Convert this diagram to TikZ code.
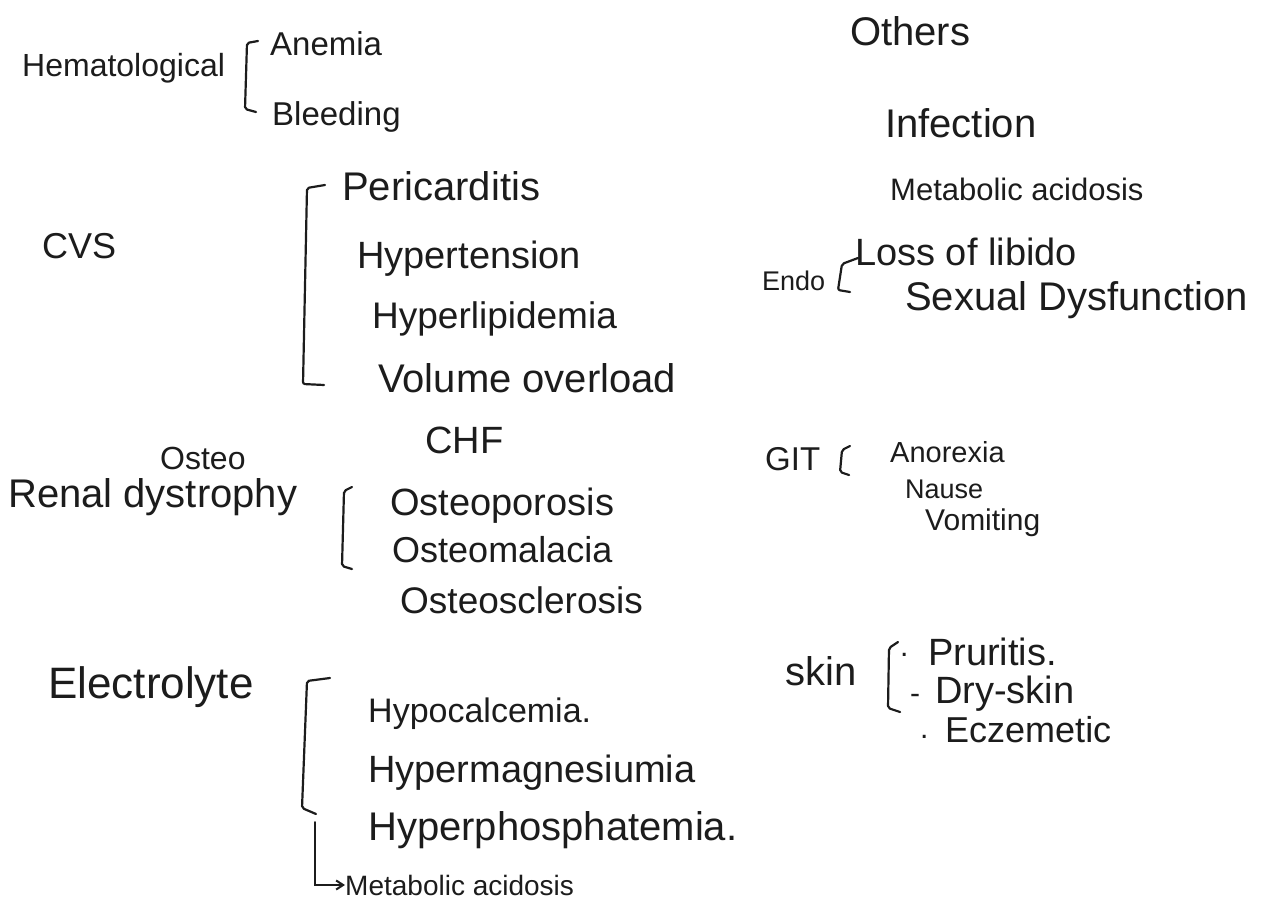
\documentclass[tikz,border=0pt]{standalone}
\usepackage{fontspec}
\setmainfont{Liberation Sans}
\usetikzlibrary{arrows.meta}
\definecolor{ink}{HTML}{1C1C1C}
\begin{document}
\begin{tikzpicture}[x=1pt,y=-1pt,
  txt/.style={anchor=base west, inner sep=0pt, text=ink, font=\fontsize{#1}{#1}\selectfont},
  brk/.style={draw=ink, line width=2.2pt, line cap=round, line join=round, rounded corners=2pt},
  conn/.style={draw=ink, line width=2pt, line cap=round, -{Straight Barb[length=7pt,width=9pt,line width=2pt]}}]
\useasboundingbox[fill=white] (0,0) rectangle (1280,899);

% Hematological
\node[txt=32] (hem) at (22,77) {Hematological};
\node[txt=33] (anemia) at (270,56) {Anemia};
\node[txt=33] (bleed) at (272,125) {Bleeding};
\draw[brk] (258,41) -- (247,43) -- (245,109) -- (256,112);

% CVS
\node[txt=36] (cvs) at (42,258) {CVS};
\node[txt=40] (peri) at (342,200) {Pericarditis};
\node[txt=38] (hyt) at (357,268) {Hypertension};
\node[txt=37] (hyl) at (372,328) {Hyperlipidemia};
\node[txt=40] (vol) at (378,392) {Volume overload};
\node[txt=38] (chf) at (425,453) {CHF};
\draw[brk] (325,185) -- (307,188) -- (303,384) -- (324,385);

% Renal osteodystrophy
\node[txt=32] (osteo) at (160,469) {Osteo};
\node[txt=40] (renal) at (8,507) {Renal dystrophy};
\node[txt=38] (osp) at (390,515) {Osteoporosis};
\node[txt=36] (osm) at (392,562) {Osteomalacia};
\node[txt=37] (oss) at (400,613) {Osteosclerosis};
\draw[brk] (352,487) -- (344,491) -- (342,566) -- (352,569);

% Electrolyte
\node[txt=44] (elec) at (48,698) {Electrolyte};
\node[txt=34] (hca) at (368,722) {Hypocalcemia.};
\node[txt=38] (hmg) at (368,782) {Hypermagnesiumia};
\node[txt=40] (hph) at (368,840) {Hyperphosphatemia.};
\node[txt=28] (mac2) at (345,895) {Metabolic acidosis};
\draw[brk] (330,678) -- (307,681) -- (302,808) -- (316,814);
\coordinate (ea) at (315,822);
\draw[conn] (ea) |- (mac2.west);

% Others
\node[txt=40] (others) at (850,46) {Others};
\node[txt=40] (inf) at (885,137) {Infection};
\node[txt=31] (mac1) at (890,200) {Metabolic acidosis};

% Endo
\node[txt=27] (endo) at (762,290) {Endo};
\node[txt=38] (loss) at (855,265) {Loss of libido};
\node[txt=40] (sex) at (905,310) {Sexual Dysfunction};
\draw[brk] (858,258) -- (842,264) -- (838,290) -- (850,292);

% GIT
\node[txt=33] (git) at (765,470) {GIT};
\node[txt=29] (ano) at (890,462) {Anorexia};
\node[txt=27] (nau) at (905,498) {Nause};
\node[txt=30] (vom) at (925,530) {Vomiting};
\draw[brk] (850,446) -- (842,450) -- (840,472) -- (849,475);

% Skin
\node[txt=40] (skin) at (785,685) {skin};
\node[txt=30] (d1) at (900,656) {.};
\node[txt=38] (pru) at (928,665) {Pruritis.};
\node[txt=30] (d2) at (910,703) {-};
\node[txt=38] (dry) at (935,703) {Dry-skin};
\node[txt=30] (d3) at (920,738) {.};
\node[txt=36] (ecz) at (945,742) {Eczemetic};
\draw[brk] (898,642) -- (889,648) -- (888,708) -- (900,712);
\end{tikzpicture}
\end{document}
